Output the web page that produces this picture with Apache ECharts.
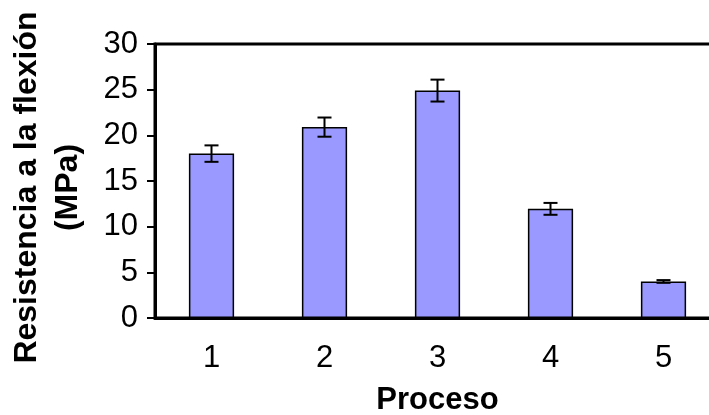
<!DOCTYPE html>
<html>
<head>
<meta charset="utf-8">
<script src="https://cdn.jsdelivr.net/npm/echarts@6/dist/echarts.min.js"></script>
<style>
html,body{margin:0;padding:0;background:#fff;}
#chart{width:709px;height:415px;}
</style>
</head>
<body>
<div id="chart"></div>
<script>
const categories = ['1', '2', '3', '4', '5'];
const values = [18, 20.9, 24.9, 11.95, 4];
const errors = [0.9, 1.05, 1.2, 0.65, 0.15];
const yTicks = { min: 0, max: 30, interval: 5 };
const xTitle = 'Proceso';
const yTitle = 'Resistencia a la flexión\n(MPa)';

const FONT = '"Liberation Sans", Arial, sans-serif';
const chart = echarts.init(document.getElementById('chart'));

const errData = categories.map((c, i) => [i, values[i] - errors[i], values[i] + errors[i]]);

chart.setOption({
  animation: false,
  grid: {
    left: 155, top: 44, width: 565, height: 274,
    outerBoundsMode: 'none',
    containLabel: false,
    show: true, borderColor: '#000', borderWidth: 3, backgroundColor: 'transparent'
  },
  xAxis: {
    type: 'category',
    data: categories,
    name: xTitle,
    nameLocation: 'middle',
    nameGap: 67,
    nameTextStyle: { fontFamily: FONT, fontSize: 31, fontWeight: 'bold', color: '#000' },
    axisLine: { lineStyle: { color: '#000', width: 3 } },
    axisTick: { length: 8, lineStyle: { color: '#000', width: 2 } },
    axisLabel: { fontFamily: FONT, fontSize: 31, color: '#000', margin: 25 }
  },
  yAxis: {
    type: 'value',
    min: yTicks.min, max: yTicks.max, interval: yTicks.interval,
    name: yTitle,
    nameLocation: 'middle',
    nameRotate: 90,
    nameGap: 66,
    nameTextStyle: { fontFamily: FONT, fontSize: 32, fontWeight: 'bold', color: '#000', lineHeight: 41, align: 'center', padding: [0, 13, 0, 0] },
    splitLine: { show: false },
    axisLine: { show: true, lineStyle: { color: '#000', width: 3 } },
    axisTick: { show: true, length: 8, lineStyle: { color: '#000', width: 2 } },
    axisLabel: { fontFamily: FONT, fontSize: 31, color: '#000', margin: 17 }
  },
  series: [
    {
      type: 'bar',
      data: values,
      barWidth: '40%',
      itemStyle: { color: '#9999FF', borderColor: '#000', borderWidth: 1.5 }
    },
    {
      type: 'custom',
      data: errData,
      z: 10,
      renderItem: function (params, api) {
        const x = api.value(0);
        const lo = api.coord([x, api.value(1)]);
        const hi = api.coord([x, api.value(2)]);
        const hw = 7;
        const style = { stroke: '#000', lineWidth: 2 };
        return {
          type: 'group',
          children: [
            { type: 'line', shape: { x1: hi[0], y1: hi[1], x2: lo[0], y2: lo[1] }, style: style },
            { type: 'line', shape: { x1: hi[0] - hw, y1: hi[1], x2: hi[0] + hw, y2: hi[1] }, style: style },
            { type: 'line', shape: { x1: lo[0] - hw, y1: lo[1], x2: lo[0] + hw, y2: lo[1] }, style: style }
          ]
        };
      }
    }
  ]
});
</script>
</body>
</html>
